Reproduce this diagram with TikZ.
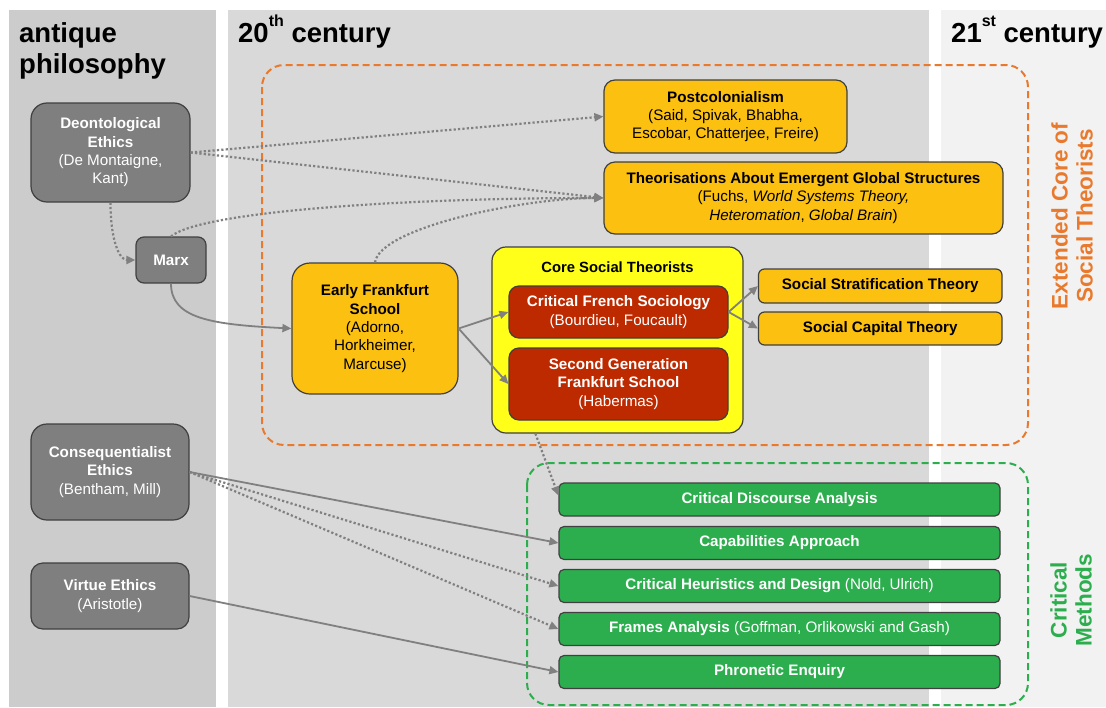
\documentclass[tikz,border=0pt]{standalone}
\usepackage{fontspec}
\setmainfont{Liberation Sans}
\usetikzlibrary{arrows.meta,calc}
\definecolor{bgA}{HTML}{CCCCCC}
\definecolor{bgB}{HTML}{D9D9D9}
\definecolor{bgC}{HTML}{F2F2F2}
\definecolor{grayN}{HTML}{7F7F7F}
\definecolor{goldN}{HTML}{FCC010}
\definecolor{yellowN}{HTML}{FFFF1A}
\definecolor{redN}{HTML}{BE2A00}
\definecolor{greenN}{HTML}{2CAE4E}
\definecolor{orangeT}{HTML}{E97A2D}
\definecolor{edgeC}{HTML}{808080}
\definecolor{borderC}{HTML}{404040}
\newcommand{\supx}[1]{\raisebox{0.55em}{\fontsize{16}{16}\selectfont #1}}
\tikzset{
  box/.style={draw=borderC, line width=1.2pt, inner sep=0pt, align=center,
    font=\fontsize{15.2}{18.3}\selectfont},
  graybox/.style={box, fill=grayN, text=white, rounded corners=16pt},
  goldbox/.style={box, fill=goldN, text=black, rounded corners=11pt},
  redbox/.style={box, fill=redN, text=white, rounded corners=10pt},
  greenbox/.style={box, fill=greenN, text=white, rounded corners=5pt,
    minimum width=441pt, minimum height=33pt},
  header/.style={font=\fontsize{27.5}{31}\selectfont\bfseries, inner sep=0pt},
  sidelabel/.style={font=\fontsize{22.5}{25}\selectfont\bfseries, align=center, rotate=90, inner sep=0pt},
  arr/.style={draw=edgeC, line width=1.8pt, -{Triangle[length=9pt,width=8pt]}},
  dotarr/.style={arr, dash pattern=on 2.2pt off 2.2pt, line width=2.2pt},
  frame/.style={line width=2pt, dash pattern=on 7pt off 4pt, rounded corners=22pt}
}
\begin{document}
\begin{tikzpicture}[x=1pt,y=-1pt]
\useasboundingbox (0,0) rectangle (1106,707);
% columns
\fill[white] (0,0) rectangle (1106,707);
\fill[bgA] (9,10) rectangle (216,707);
\fill[bgB] (228,10) rectangle (929,707);
\fill[bgC] (941,10) rectangle (1106,707);
% headers
\node[header, anchor=base west] (h1) at (19,42) {antique};
\node[header, anchor=base west] (h1b) at (19,73) {philosophy};
\node[header, anchor=base west] (h2) at (238,42) {20\supx{th} century};
\node[header, anchor=base west] (h3) at (951,42) {21\supx{st} century};
% frames
\draw[frame, draw=orangeT] (262,65) rectangle (1028,445);
\draw[frame, draw=greenN] (527,463) rectangle (1028,705);
\node[sidelabel, text=orangeT] (extlab) at (1072,216) {Extended Core of\\Social Theorists};
\node[sidelabel, text=greenN] (critlab) at (1071,600) {Critical\\Methods};
% antique nodes
\node[graybox, minimum width=159pt, minimum height=99pt] (deont) at (110.5,152.5)
  {\textbf{Deontological}\\\textbf{Ethics}\\(De Montaigne,\\Kant)};
\node[graybox, minimum width=158pt, minimum height=96pt] (cons) at (110,472)
  {\textbf{Consequentialist}\\\textbf{Ethics}\\(Bentham, Mill)};
\node[graybox, minimum width=158pt, minimum height=66pt, rounded corners=12pt] (virtue) at (110,596)
  {\textbf{Virtue Ethics}\\(Aristotle)};
\node[graybox, minimum width=70pt, minimum height=46pt, rounded corners=8pt] (marx) at (171,260)
  {\textbf{Marx}};
% 20th century
\node[goldbox, minimum width=166pt, minimum height=131pt, rounded corners=18pt] (efs) at (375,328.5)
  {\textbf{Early Frankfurt}\\\textbf{School}\\(Adorno,\\Horkheimer,\\Marcuse)};
\node[box, fill=yellowN, rounded corners=14pt, minimum width=251pt, minimum height=186pt] (core) at (617.5,340) {};
\node[font=\fontsize{14.8}{18}\selectfont\bfseries, inner sep=0pt] (coretitle) at (617.5,267) {Core Social Theorists};
\node[redbox, minimum width=219pt, minimum height=52pt] (cfs) at (618.5,312)
  {\textbf{Critical French Sociology}\\(Bourdieu, Foucault)};
\node[redbox, minimum width=219pt, minimum height=72pt] (sgfs) at (618.5,384)
  {\textbf{Second Generation}\\\textbf{Frankfurt School}\\(Habermas)};
\node[goldbox, minimum width=243pt, minimum height=73pt] (post) at (725.5,116.5)
  {\textbf{Postcolonialism}\\(Said, Spivak, Bhabha,\\Escobar, Chatterjee, Freire)};
\node[goldbox, minimum width=399pt, minimum height=72pt] (theo) at (803.5,198)
  {\textbf{Theorisations About Emergent Global Structures}\\(Fuchs, \textit{World Systems Theory,}\\\textit{Heteromation}, \textit{Global Brain})};
\node[goldbox, rounded corners=6pt, minimum width=243.5pt, minimum height=34pt] (sst) at (880.25,286)
  {\textbf{Social Stratification Theory}};
\node[goldbox, rounded corners=6pt, minimum width=243.5pt, minimum height=33pt] (sct) at (880.25,328.5)
  {\textbf{Social Capital Theory}};
% methods
\node[greenbox] (cda) at (779.5,499.5) {\textbf{Critical Discourse Analysis}};
\node[greenbox] (cap) at (779.5,543) {\textbf{Capabilities Approach}};
\node[greenbox] (ch) at (779.5,586) {\textbf{Critical Heuristics and Design} (Nold, Ulrich)};
\node[greenbox] (fa) at (779.5,629) {\textbf{Frames Analysis} (Goffman, Orlikowski and Gash)};
\node[greenbox] (pe) at (779.5,672) {\textbf{Phronetic Enquiry}};
% connectors
\draw[dotarr] (deont.east) -- (post.west);
\draw[dotarr] (deont.east) -- (theo.west);
\draw[dotarr] (deont.south) .. controls +(0,38) and +(-16,0) .. (marx.west);
\draw[dotarr] (marx.north) .. controls +(30,-25) and +(-200,0) .. (theo.west);
\draw[dotarr] (efs.north) .. controls +(5,-35) and +(-80,0) .. (theo.west);
\draw[arr] (marx.south) .. controls +(0,35) and +(-80,-4) .. (efs.west);
\draw[arr] (efs.east) -- (cfs.west);
\draw[arr] (efs.east) -- (sgfs.west);
\draw[arr] (cfs.east) -- (sst.west);
\draw[arr] (cfs.east) -- (sct.west);
\coordinate (corefoot) at ([xshift=44pt]core.south west);
\draw[dotarr] (corefoot) -- ([yshift=4pt]cda.west);
\draw[arr] (cons.east) -- (cap.west);
\draw[dotarr] (cons.east) -- (ch.west);
\draw[dotarr] (cons.east) -- (fa.west);
\draw[arr] (virtue.east) -- (pe.west);
\end{tikzpicture}
\end{document}
